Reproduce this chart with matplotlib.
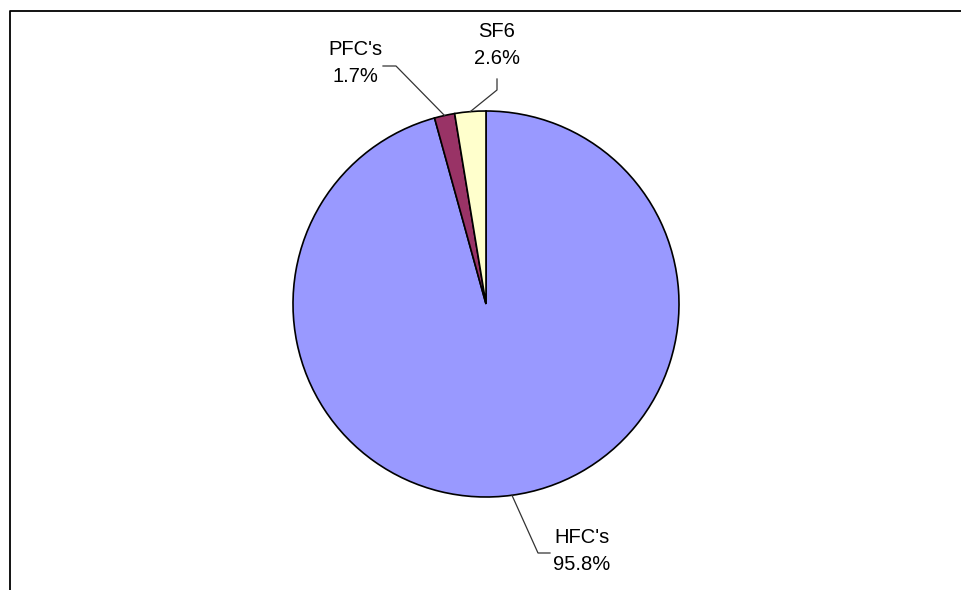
import numpy as np
import matplotlib
matplotlib.use('Agg')
import matplotlib.pyplot as plt
from matplotlib.lines import Line2D

# Данные диаграммы
gases = ["HFC's", "PFC's", "SF6"]
shares = [95.8, 1.7, 2.6]
colors = ['#9999FF', '#993366', '#FFFFCC']

W, H = 961, 590
fig = plt.figure(figsize=(W / 100, H / 100), dpi=100)
ax = fig.add_axes([0, 0, 1, 1])
ax.patch.set_visible(False)

# центр и радиус круга в пикселях (ось y снизу вверх)
cx, cy, r = 486, H - 304, 193
wedges, _ = ax.pie(shares, colors=colors, startangle=90, counterclock=False,
                   center=(cx, cy), radius=r,
                   wedgeprops=dict(edgecolor='black', linewidth=1.2))
ax.set_xlim(0, W)
ax.set_ylim(0, H)
ax.axis('off')

# рамка области диаграммы: только левый и верхний края видны
fig.add_artist(Line2D([10 / W, 10 / W, 1.0], [0.0, 1 - 11 / H, 1 - 11 / H],
                      transform=fig.transFigure, color='black', lw=1.3))

# подписи с выносками: (точка излома, конец выноски, позиция текста), y сверху
layout = {
    "HFC's": [(538, 553), (550, 553), (582, 551)],
    "PFC's": [(396, 66), (383, 66), (355, 63)],
    "SF6": [(497, 90), (497, 79), (497, 45)],
}

for w, name, val in zip(wedges, gases, shares):
    mid = np.deg2rad((w.theta1 + w.theta2) / 2)
    ex = cx + r * np.cos(mid)
    ey = cy + r * np.sin(mid)
    (kx, ky), (lx, ly), (tx, ty) = layout[name]
    ax.plot([ex, kx, lx], [ey, H - ky, H - ly], color='#333333', lw=0.9)
    ax.text(tx, H - ty, f'{name}\n{val:.1f}%', ha='center', va='center',
            fontsize=14.5, linespacing=1.55,
            family=['Liberation Sans', 'DejaVu Sans'])

fig.savefig('out.png', dpi=100)
